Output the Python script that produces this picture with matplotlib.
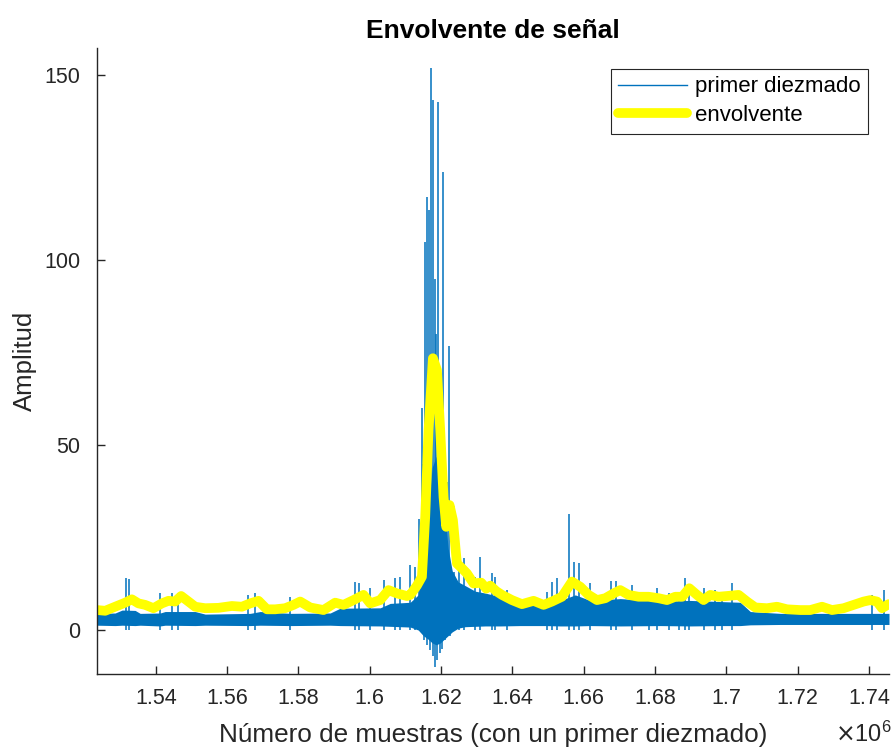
import matplotlib
matplotlib.use('Agg')
import matplotlib.pyplot as plt
from matplotlib.ticker import FuncFormatter

plt.rcParams['font.family'] = ['Liberation Sans', 'DejaVu Sans']

# envolvente (muestras, amplitud)
x_env = [1523535, 1525779, 1528584, 1531389, 1533268, 1535119, 1536999, 1539327,
         1541683, 1543534, 1545414, 1547097, 1549144, 1551024, 1553829, 1557559,
         1561318, 1564123, 1566451, 1568779, 1571136, 1573464, 1576269, 1578597,
         1580476, 1583281, 1587012, 1590294, 1592622, 1595427, 1598232, 1600111,
         1602916, 1605244, 1607601, 1610406, 1611331, 1613211, 1614613, 1615539,
         1616464, 1617699, 1618821, 1619746, 1620672, 1621429, 1622355, 1623309,
         1624431, 1625833, 1627236, 1629087, 1631247, 1632649, 1633771, 1635454,
         1637053, 1639858, 1642663, 1645917, 1648722, 1651078, 1653883, 1656688,
         1659016, 1661344, 1663701, 1666029, 1668357, 1670236, 1672564, 1675369,
         1678174, 1680979, 1683336, 1685664, 1687627, 1689591, 1691751, 1693602,
         1695481, 1697809, 1700166, 1703419, 1705776, 1708104, 1711386, 1714191,
         1716996, 1720726, 1723531, 1726813, 1729618, 1732872, 1735677, 1738482,
         1740361, 1742241, 1743643, 1745494]
env = [5.4, 5.2, 6.3, 7.4, 8.3, 7.2, 6.8, 5.9,
       7.2, 7.9, 7.7, 9.2, 7.7, 6.3, 5.9, 6.0,
       6.5, 6.3, 7.2, 7.9, 5.6, 5.6, 5.9, 6.8,
       7.7, 6.1, 5.4, 7.4, 6.8, 8.1, 9.5, 7.2,
       8.1, 10.8, 9.9, 9.2, 9.5, 12.0, 14.4, 30.6,
       54.0, 73.5, 70.3, 54.0, 36.0, 27.9, 33.8, 29.7,
       18.0, 16.7, 15.3, 12.6, 12.8, 11.2, 12.0, 10.5,
       9.5, 8.1, 7.0, 7.9, 6.8, 7.7, 9.0, 13.1,
       11.7, 9.5, 8.1, 8.6, 9.9, 10.8, 9.5, 9.0,
       9.0, 8.6, 8.1, 9.0, 9.0, 11.3, 9.5, 8.1,
       9.5, 9.0, 9.2, 9.5, 7.7, 6.1, 5.9, 6.3,
       5.6, 5.4, 5.4, 6.3, 5.4, 5.9, 6.8, 7.7,
       8.1, 7.7, 5.9, 7.0]

# banda densa de la senal diezmada
x_banda = [1523500, 1528584, 1530548, 1534194, 1535596, 1541206, 1542609, 1551024,
           1553829, 1566451, 1569256, 1577671, 1588891, 1591696, 1602916, 1605721,
           1611331, 1613575, 1614978, 1616380, 1617502, 1618624, 1619746, 1620868,
           1621990, 1623112, 1624795, 1626759, 1629564, 1632369, 1636577, 1642187,
           1649199, 1653407, 1657614, 1661822, 1670236, 1681456, 1689871, 1698286,
           1703896, 1706701, 1715116, 1745600]
banda_sup = [4.5, 4.6, 5.4, 5.3, 4.5, 4.6, 5.0, 5.0,
             4.3, 4.5, 5.0, 4.5, 4.6, 5.9, 6.0, 7.2,
             7.5, 9.5, 18.0, 33.0, 44.0, 47.0, 44.0, 33.0,
             22.0, 16.0, 13.0, 12.0, 10.5, 10.0, 9.0, 7.2,
             6.8, 8.0, 9.5, 8.0, 8.5, 7.8, 8.0, 7.7,
             7.5, 5.0, 4.5, 4.5]
banda_inf = [1.3, 1.2, 1.3, 1.2, 1.3, 1.1, 1.3, 1.2,
             1.3, 1.2, 1.3, 1.2, 1.3, 1.2, 1.1, 1.0,
             0.8, 0.0, -1.5, -2.5, -3.5, -4.0, -3.5, -2.5,
             -1.5, -0.5, 0.5, 0.9, 1.0, 1.1, 1.1, 1.2,
             1.2, 1.1, 1.1, 1.2, 1.1, 1.2, 1.1, 1.2,
             1.2, 1.4, 1.5, 1.5]

# picos positivos
x_picos = [1531585, 1532595, 1541206, 1544488, 1546339, 1565974, 1567854, 1577671,
           1595904, 1596830, 1600111, 1603842, 1607124, 1608527, 1611331, 1612734,
           1613900, 1614500, 1614980, 1615455, 1616016, 1616577, 1617138, 1617699,
           1618205, 1618700, 1619185, 1620100, 1620588, 1621626, 1622075, 1623478,
           1624880, 1626283, 1629564, 1630770, 1634248, 1635174, 1638456, 1649676,
           1651078, 1652481, 1655735, 1657137, 1658736, 1661822, 1667712, 1669030,
           1673518, 1678174, 1680531, 1683785, 1686590, 1688469, 1689395, 1693602,
           1696884, 1698763, 1701568, 1740838, 1744092]
picos = [14.0, 13.7, 10.1, 9.9, 9.9, 9.5, 10.1, 9.0,
         13.1, 12.6, 11.3, 13.5, 14.0, 14.3, 17.6, 17.0,
         30.0, 60.0, 45.0, 105.0, 117.2, 113.6, 151.9, 143.3,
         95.0, 80.0, 142.9, 60.0, 123.9, 40.1, 76.7, 15.8,
         21.6, 19.4, 14.4, 19.8, 15.3, 14.4, 10.8, 10.4,
         13.1, 14.0, 31.4, 18.5, 18.0, 12.6, 13.3, 13.3,
         12.2, 10.4, 11.3, 9.9, 10.1, 14.0, 12.2, 11.3,
         10.8, 10.4, 12.6, 9.5, 10.8]

# picos negativos
x_picos_neg = [1615062, 1616100, 1616942, 1617782, 1618343, 1618906, 1619746, 1620307,
               1621148, 1622551]
picos_neg = [-2.7, -4.0, -5.4, -7.0, -9.9, -8.0, -6.3, -5.0,
             -2.7, -1.5]

azul = '#0072BD'
gris = '#262626'

fig = plt.figure(figsize=(8.95, 7.49), dpi=100)
ax = fig.add_axes([0.1084, 0.1001, 0.8849, 0.8358])

ax.fill_between(x_banda, banda_inf, banda_sup, color=azul, linewidth=0)
ax.vlines(x_picos, 0, picos, color=azul, linewidth=1.1)
ax.vlines(x_picos_neg, 0, picos_neg, color=azul, linewidth=1.1)
ax.plot([], [], color=azul, linewidth=1.0, label='primer diezmado')
ax.plot(x_env, env, color='#FFFF00', linewidth=7, solid_capstyle='round',
        solid_joinstyle='round', label='envolvente')

ax.set_xlim(1523500, 1745600)
ax.set_ylim(-11.9, 157.4)
ax.set_xticks([1540000 + 20000 * k for k in range(11)])
ax.set_yticks([0, 50, 100, 150])
ax.xaxis.set_major_formatter(FuncFormatter(lambda v, p: '%g' % round(v / 1e6, 2)))

for s in ['top', 'right']:
    ax.spines[s].set_visible(False)
for s in ['left', 'bottom']:
    ax.spines[s].set_color(gris)
    ax.spines[s].set_linewidth(1.0)
ax.tick_params(direction='in', length=6, width=1, colors=gris, labelsize=15.5)
ax.tick_params(axis='x', pad=10)
ax.tick_params(axis='y', pad=12)

ax.set_title('Envolvente de señal', fontsize=19, fontweight='bold', pad=7)
ax.set_xlabel('Número de muestras (con un primer diezmado)', fontsize=18.8,
              color=gris, labelpad=10)
ax.set_ylabel('Amplitud', fontsize=18.5, color=gris, labelpad=5)
fig.text(0.996, 0.003, r'$\times\mathregular{10^6}$', ha='right', va='bottom',
         fontsize=17, color=gris)

leg = ax.legend(loc='upper right', bbox_to_anchor=(0.974, 0.967), fontsize=16,
                fancybox=False, edgecolor=gris, framealpha=1,
                handlelength=3.1, borderpad=0.35, labelspacing=0.35,
                handletextpad=0.35, borderaxespad=0)
leg.get_frame().set_linewidth(0.8)

fig.savefig('out.png', dpi=100)
